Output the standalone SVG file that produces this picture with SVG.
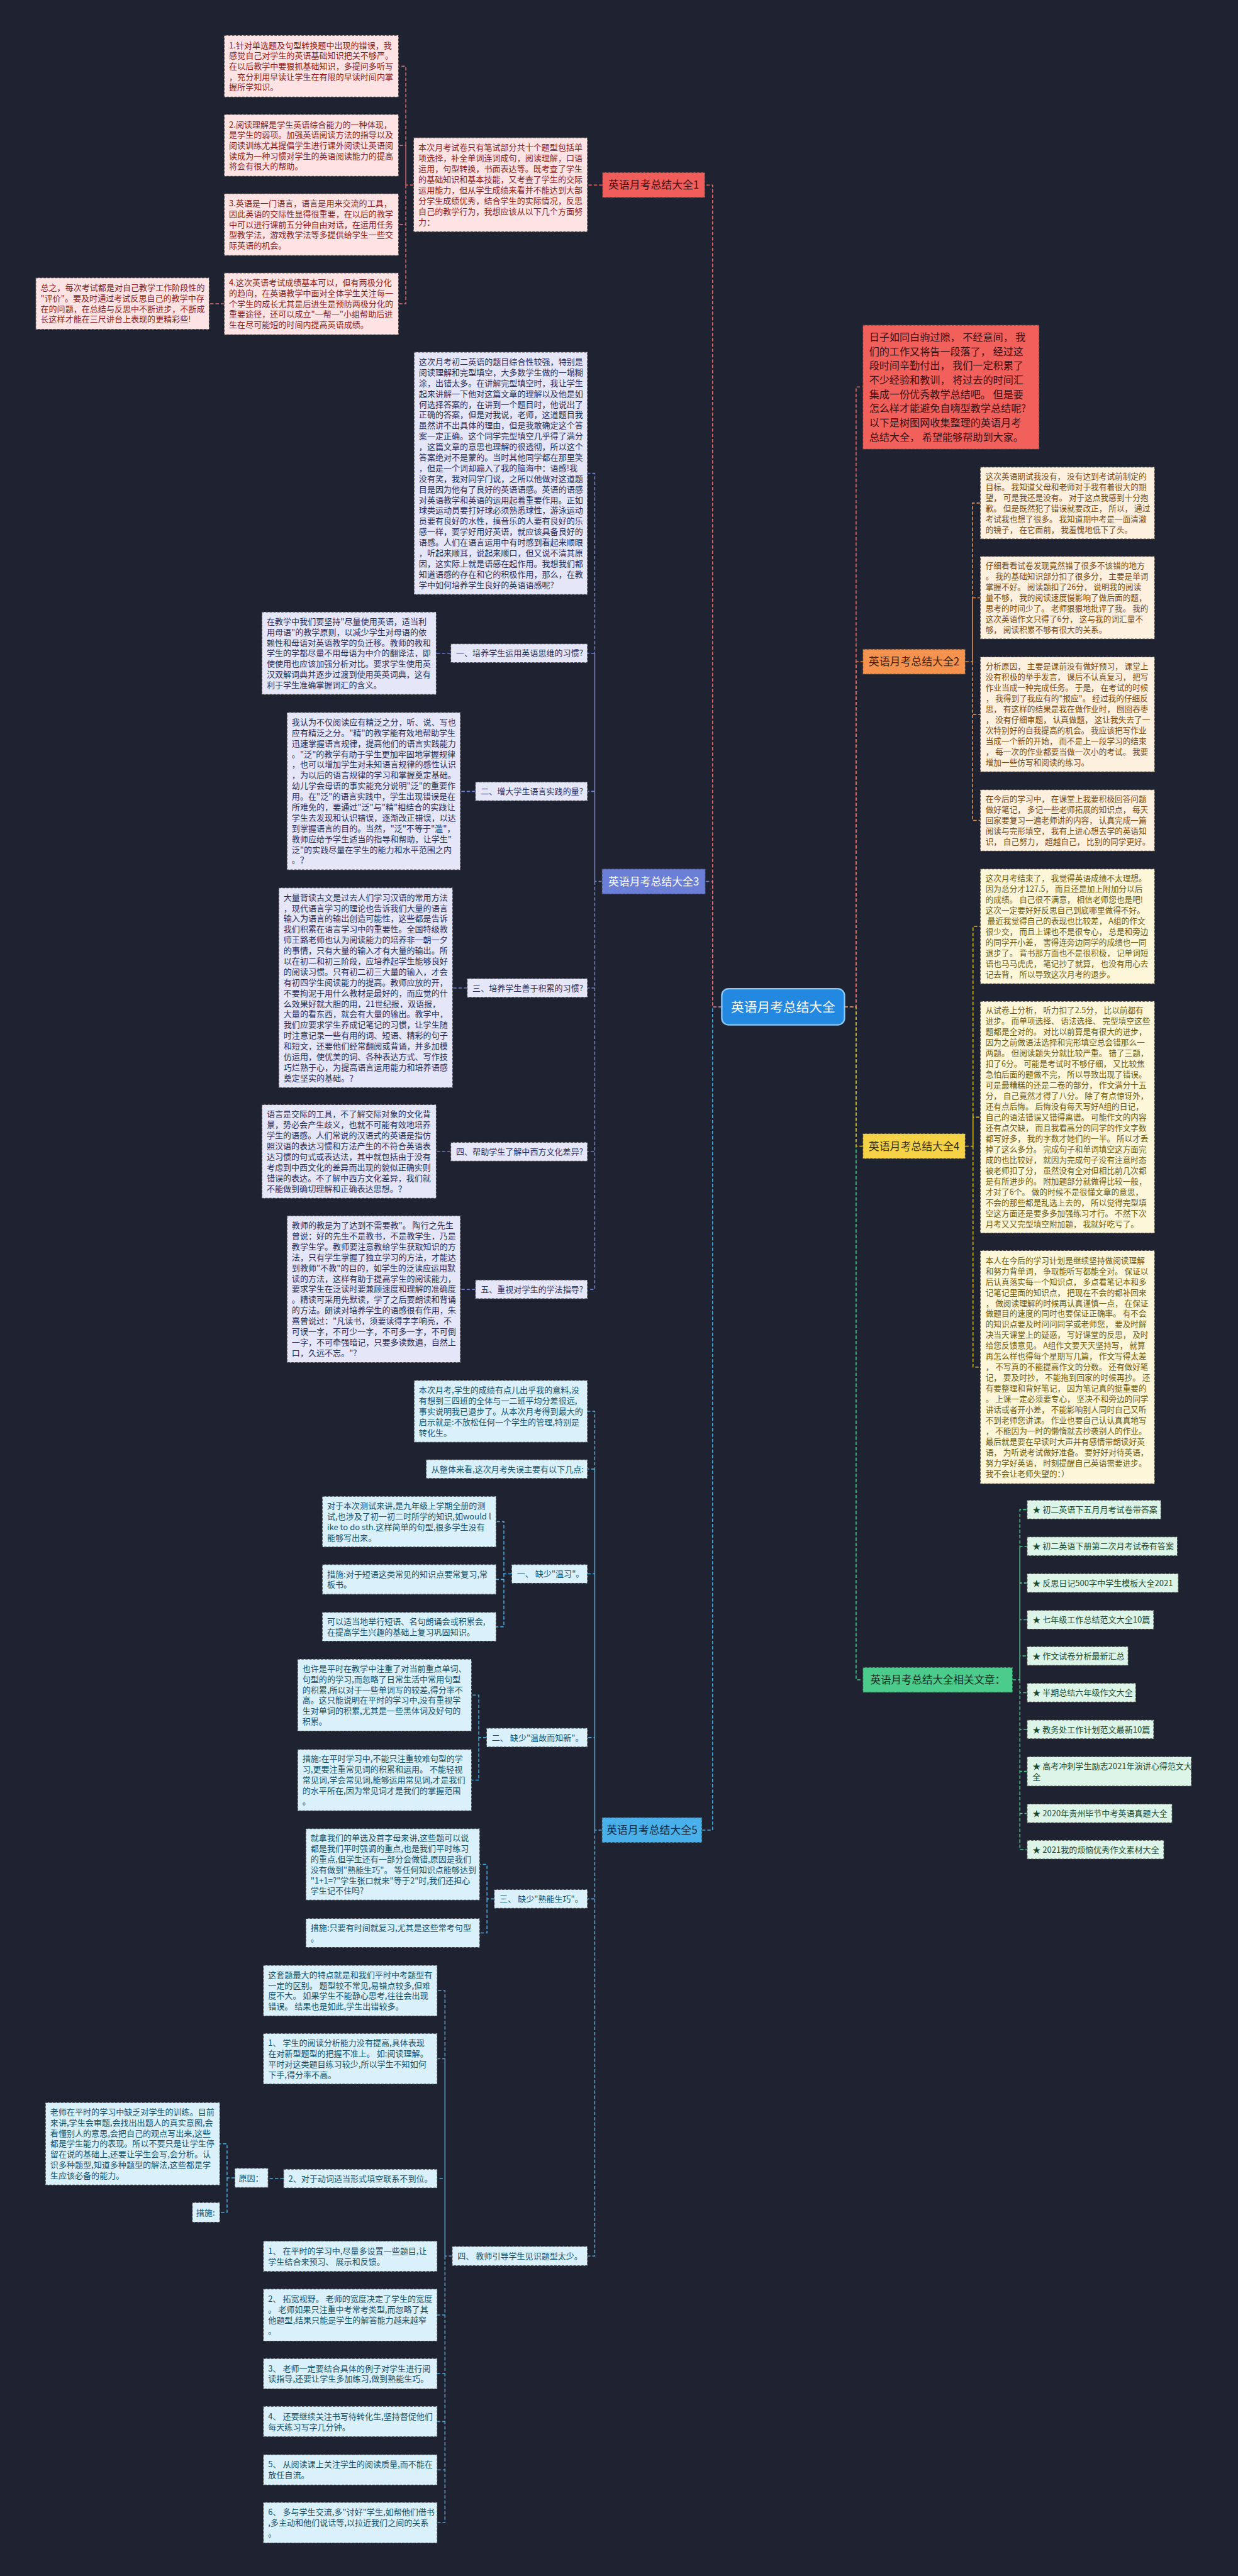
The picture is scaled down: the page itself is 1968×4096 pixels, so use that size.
<svg xmlns="http://www.w3.org/2000/svg" width="1968" height="4096" viewBox="0 0 1968 4096">
<style>
.tx{font-family:"Noto Sans CJK SC","Noto Sans",sans-serif}
.f17{font-size:17px}
.f16{font-size:16.5px}
.bx{stroke:#3a3a3a;stroke-width:1.5;stroke-dasharray:5 3}
.cl{fill:none;stroke-width:2;stroke-dasharray:7 4}
.k1{stroke:#e26b6b}.k2{stroke:#e8954d}.k3{stroke:#7080d0}.k4{stroke:#d9bb3a}.k5{stroke:#4aa9dc}.k6{stroke:#4ccc8c}
.p1{fill:#fde3e3}.tp1{fill:#8a1d1d}
.p2{fill:#fef0de}.tp2{fill:#7a4a10}
.p3{fill:#e5e7f8}.tp3{fill:#2a2d5c}
.p4{fill:#fdf6d8}.tp4{fill:#6e5c12}
.p5{fill:#daf1fb}.tp5{fill:#15506b}
.p6{fill:#ddf5e8}.tp6{fill:#1c4a30}
.lab{font-size:22px;text-anchor:middle}
</style>
<rect x="0" y="0" width="1968" height="4096" fill="#1f2230"/>
<g transform="scale(0.768)">
<g id="connectors">
<path class="cl k5" d="M1494 2085H1475V3789H1453"/>
<path class="cl k3" d="M1494 2085H1475V1825H1460"/>
<path class="cl k1" d="M1494 2085H1475V383H1459"/>
<path class="cl k6" d="M1748 2085H1772V3478H1786"/>
<path class="cl k4" d="M1748 2085H1772V2373H1786"/>
<path class="cl k2" d="M1748 2085H1772V1370H1786"/>
<path class="cl k1" d="M1748 2085H1772V801H1786"/>
<path class="cl k1" d="M1247 383H1216M856 383H840V137H825M840 383V301H825M840 383V465H825M840 383V629H825M464 629H433"/>
<path class="cl k2" d="M1998 1370H2013V1041.5H2029M2013 1370V1237.5H2029M2013 1370V1479H2029M2013 1370V1698.5H2029"/>
<path class="cl k4" d="M1998 2373H2014V1918H2029M2014 2373V2313H2029M2014 2373V2830.5H2029"/>
<path class="cl k6" d="M2096 3478H2111V3125.5H2126M2111 3478V3201.5H2126M2111 3478V3277.5H2126M2111 3478V3353.5H2126M2111 3478V3428.5H2126M2111 3478V3504.5H2126M2111 3478V3580.5H2126M2111 3478V3667.5H2126M2111 3478V3754.5H2126M2111 3478V3829.5H2126"/>
<path class="cl k3" d="M1246 1825H1231V980H1216M1231 1825V1352.5H1216M1231 1825V1638.5H1216M1231 1825V2045.5H1216M1231 1825V2384.5H1216M1231 1825V2669.5H1216M933 1352.5H903M984 1638.5H953M967 2045.5H937M933 2384.5H903M984 2669.5H953"/>
<path class="cl k5" d="M1246 3789H1231V2922H1216M1231 3789V3041.5H1216M1231 3789V3258.5H1216M1231 3789V3597.5H1216M1231 3789V3931.5H1216M1231 3789V4671H1216"/>
<path class="cl k5" d="M1059 3258.5H1043V3150.5H1027M1043 3258.5V3270H1027M1043 3258.5V3368H1027M1007 3597.5H991V3509.5H976M991 3597.5V3685.5H976M1023 3931.5H1008V3860H993M1008 3931.5V4002H993"/>
<path class="cl k5" d="M936 4671H921V4121.5H905M921 4671V4262.5H905M921 4671V4510.5H905M921 4671V4793H905M921 4671V4914.5H905M921 4671V5013.5H905M921 4671V5113.5H905M921 4671V5223H905M587 4510.5H555M486 4509H470V4438.5H455M470 4509V4580.5H455"/>
</g>

<g id="root">
<rect x="1494" y="2047" width="254" height="75" rx="14" fill="#2389e0" stroke="#8cc8f5" stroke-width="3"/>
<text class="tx" x="1621" y="2094.5" font-size="27" fill="#ffffff" text-anchor="middle">英语月考总结大全</text>
</g>

<g id="b1">
<rect x="1247" y="357" width="212" height="52" fill="#f05d5b" class="bx"/>
<text class="tx lab" x="1353" y="391" fill="#3d1212">英语月考总结大全1</text>
</g>
<g id="b1-s">
<rect x="856" y="285" width="360" height="195" class="bx p1"/>
<text class="tx f17 tp1" x="866" y="311.6"><tspan x="866">本次月考试卷只有笔试部分共十个题型包括单</tspan><tspan x="866" dy="22">项选择，补全单词连词成句，阅读理解，口语</tspan><tspan x="866" dy="22">运用，句型转换，书面表达等。既考查了学生</tspan><tspan x="866" dy="22">的基础知识和基本技能，又考查了学生的交际</tspan><tspan x="866" dy="22">运用能力，但从学生成绩来看并不能达到大部</tspan><tspan x="866" dy="22">分学生成绩优秀，结合学生的实际情况，反思</tspan><tspan x="866" dy="22">自己的教学行为，我想应该从以下几个方面努</tspan><tspan x="866" dy="22">力：</tspan></text>
</g>
<g id="b1-1">
<rect x="464" y="73" width="361" height="128" class="bx p1"/>
<text class="tx f17 tp1" x="474" y="99.7"><tspan x="474">1.针对单选题及句型转换题中出现的错误，我</tspan><tspan x="474" dy="21.7">感觉自己对学生的英语基础知识把关不够严。</tspan><tspan x="474" dy="21.7">在以后教学中要狠抓基础知识，多提问多听写</tspan><tspan x="474" dy="21.7">，充分利用早读让学生在有限的早读时间内掌</tspan><tspan x="474" dy="21.7">握所学知识。</tspan></text>
</g>
<g id="b1-2">
<rect x="464" y="237" width="361" height="128" class="bx p1"/>
<text class="tx f17 tp1" x="474" y="263.7"><tspan x="474">2.阅读理解是学生英语综合能力的一种体现，</tspan><tspan x="474" dy="21.7">是学生的弱项。加强英语阅读方法的指导以及</tspan><tspan x="474" dy="21.7">阅读训练尤其提倡学生进行课外阅读让英语阅</tspan><tspan x="474" dy="21.7">读成为一种习惯对学生的英语阅读能力的提高</tspan><tspan x="474" dy="21.7">将会有很大的帮助。</tspan></text>
</g>
<g id="b1-3">
<rect x="464" y="401" width="361" height="128" class="bx p1"/>
<text class="tx f17 tp1" x="474" y="427.7"><tspan x="474">3.英语是一门语言，语言是用来交流的工具，</tspan><tspan x="474" dy="21.7">因此英语的交际性显得很重要，在以后的教学</tspan><tspan x="474" dy="21.7">中可以进行课前五分钟自由对话，在运用任务</tspan><tspan x="474" dy="21.7">型教学法，游戏教学法等多提供给学生一些交</tspan><tspan x="474" dy="21.7">际英语的机会。</tspan></text>
</g>
<g id="b1-4">
<rect x="464" y="565" width="361" height="128" class="bx p1"/>
<text class="tx f17 tp1" x="474" y="591.7"><tspan x="474">4.这次英语考试成绩基本可以，但有两极分化</tspan><tspan x="474" dy="21.7">的趋向，在英语教学中面对全体学生关注每一</tspan><tspan x="474" dy="21.7">个学生的成长尤其是后进生是预防两极分化的</tspan><tspan x="474" dy="21.7">重要途径，还可以成立"一帮一"小组帮助后进</tspan><tspan x="474" dy="21.7">生在尽可能短的时间内提高英语成绩。</tspan></text>
</g>
<g id="b1-4-1">
<rect x="74" y="575" width="359" height="107" class="bx p1"/>
<text class="tx f17 tp1" x="84" y="602"><tspan x="84">总之，每次考试都是对自己教学工作阶段性的</tspan><tspan x="84" dy="21.7">"评价"。要及时通过考试反思自己的教学中存</tspan><tspan x="84" dy="21.7">在的问题，在总结与反思中不断进步，不断成</tspan><tspan x="84" dy="21.7">长这样才能在三尺讲台上表现的更精彩些!</tspan></text>
</g>

<g id="intro">
<rect x="1786" y="673" width="365" height="257" fill="#f2605c" class="bx"/>
<text class="tx" font-size="21" fill="#3a0f0f" x="1799" y="705.5"><tspan x="1799">日子如同白驹过隙， 不经意间， 我</tspan><tspan x="1799" dy="29.6">们的工作又将告一段落了， 经过这</tspan><tspan x="1799" dy="29.6">段时间辛勤付出， 我们一定积累了</tspan><tspan x="1799" dy="29.6">不少经验和教训， 将过去的时间汇</tspan><tspan x="1799" dy="29.6">集成一份优秀教学总结吧。 但是要</tspan><tspan x="1799" dy="29.6">怎么样才能避免自嗨型教学总结呢?</tspan><tspan x="1799" dy="29.6">以下是树图网收集整理的英语月考</tspan><tspan x="1799" dy="29.6">总结大全， 希望能够帮助到大家。</tspan></text>
</g>

<g id="b2">
<rect x="1786" y="1344" width="212" height="52" fill="#f5924e" class="bx"/>
<text class="tx lab" x="1892" y="1378" fill="#3d220a">英语月考总结大全2</text>
</g>
<g id="b2-1">
<rect x="2029" y="967" width="361" height="149" class="bx p2"/>
<text class="tx f16 tp2" x="2040" y="992"><tspan x="2040">这次英语期试我没有， 没有达到考试前制定的</tspan><tspan x="2040" dy="22.2">目标。 我知道父母和老师对于我有着很大的期</tspan><tspan x="2040" dy="22.2">望， 可是我还是没有。 对于这点我感到十分抱</tspan><tspan x="2040" dy="22.2">歉。 但是既然犯了错误就要改正， 所以， 通过</tspan><tspan x="2040" dy="22.2">考试我也想了很多。 我知道期中考是一面清澈</tspan><tspan x="2040" dy="22.2">的镜子， 在它面前， 我羞愧地低下了头。</tspan></text>
</g>
<g id="b2-2">
<rect x="2029" y="1152" width="361" height="171" class="bx p2"/>
<text class="tx f16 tp2" x="2040" y="1176.8"><tspan x="2040">仔细看看试卷发现竟然错了很多不该错的地方</tspan><tspan x="2040" dy="22.2">。 我的基础知识部分扣了很多分， 主要是单词</tspan><tspan x="2040" dy="22.2">掌握不好。 阅读题扣了26分， 说明我的阅读</tspan><tspan x="2040" dy="22.2">量不够， 我的阅读速度慢影响了做后面的题，</tspan><tspan x="2040" dy="22.2">思考的时间少了。 老师狠狠地批评了我。 我的</tspan><tspan x="2040" dy="22.2">这次英语作文只得了6分， 这与我的词汇量不</tspan><tspan x="2040" dy="22.2">够， 阅读积累不够有很大的关系。</tspan></text>
</g>
<g id="b2-3">
<rect x="2029" y="1360" width="361" height="238" class="bx p2"/>
<text class="tx f16 tp2" x="2040" y="1385"><tspan x="2040">分析原因， 主要是课前没有做好预习， 课堂上</tspan><tspan x="2040" dy="22.2">没有积极的举手发言， 课后不认真复习， 把写</tspan><tspan x="2040" dy="22.2">作业当成一种完成任务。 于是， 在考试的时候</tspan><tspan x="2040" dy="22.2">， 我得到了我应有的"报应"。 经过我的仔细反</tspan><tspan x="2040" dy="22.2">思， 有这样的结果是我在做作业时， 囫囵吞枣</tspan><tspan x="2040" dy="22.2">， 没有仔细审题， 认真做题， 这让我失去了一</tspan><tspan x="2040" dy="22.2">次特别好的自我提高的机会。 我应该把写作业</tspan><tspan x="2040" dy="22.2">当成一个新的开始， 而不是上一段学习的结束</tspan><tspan x="2040" dy="22.2">， 每一次的作业都要当做一次小的考试。 我要</tspan><tspan x="2040" dy="22.2">增加一些仿写和阅读的练习。</tspan></text>
</g>
<g id="b2-4">
<rect x="2029" y="1635" width="361" height="127" class="bx p2"/>
<text class="tx f16 tp2" x="2040" y="1660"><tspan x="2040">在今后的学习中， 在课堂上我要积极回答问题</tspan><tspan x="2040" dy="22.2">做好笔记， 多记一些老师拓展的知识点， 每天</tspan><tspan x="2040" dy="22.2">回家要复习一遍老师讲的内容， 认真完成一篇</tspan><tspan x="2040" dy="22.2">阅读与完形填空， 我有上进心想去学的英语知</tspan><tspan x="2040" dy="22.2">识， 自己努力， 超越自己， 比别的同学更好。</tspan></text>
</g>

<g id="b4">
<rect x="1786" y="2347" width="212" height="52" fill="#f6d346" class="bx"/>
<text class="tx lab" x="1892" y="2381" fill="#3a300a">英语月考总结大全4</text>
</g>
<g id="b4-1">
<rect x="2029" y="1799" width="361" height="238" class="bx p4"/>
<text class="tx f16 tp4" x="2040" y="1824"><tspan x="2040">这次月考结束了， 我觉得英语成绩不太理想。</tspan><tspan x="2040" dy="22.2">因为总分才127.5， 而且还是加上附加分以后</tspan><tspan x="2040" dy="22.2">的成绩。 自己很不满意， 相信老师您也是吧!</tspan><tspan x="2040" dy="22.2">这次一定要好好反思自己到底哪里做得不好。</tspan><tspan x="2040" dy="22.2">&#160;最近我觉得自己的表现也比较差， A组的作文</tspan><tspan x="2040" dy="22.2">很少交， 而且上课也不是很专心， 总是和旁边</tspan><tspan x="2040" dy="22.2">的同学开小差， 害得连旁边同学的成绩也一同</tspan><tspan x="2040" dy="22.2">退步了。 背书那方面也不是很积极， 记单词短</tspan><tspan x="2040" dy="22.2">语也马马虎虎， 笔记抄了就算， 也没有用心去</tspan><tspan x="2040" dy="22.2">记去背， 所以导致这次月考的退步。</tspan></text>
</g>
<g id="b4-2">
<rect x="2029" y="2073" width="361" height="480" class="bx p4"/>
<text class="tx f16 tp4" x="2040" y="2098"><tspan x="2040">从试卷上分析， 听力扣了2.5分， 比以前都有</tspan><tspan x="2040" dy="22.1">进步。 而单项选择、 语法选择、 完型填空这些</tspan><tspan x="2040" dy="22.1">题都是全对的。 对比以前算是有很大的进步，</tspan><tspan x="2040" dy="22.1">因为之前做语法选择和完形填空总会错那么一</tspan><tspan x="2040" dy="22.1">两题。 但阅读题失分就比较严重。 错了三题，</tspan><tspan x="2040" dy="22.1">扣了6分。 可能是考试时不够仔细， 又比较焦</tspan><tspan x="2040" dy="22.1">急怕后面的题做不完， 所以导致出现了错误。</tspan><tspan x="2040" dy="22.1">可是最糟糕的还是二卷的部分， 作文满分十五</tspan><tspan x="2040" dy="22.1">分， 自己竟然才得了八分。 除了有点惊讶外，</tspan><tspan x="2040" dy="22.1">还有点后悔。 后悔没有每天写好A组的日记，</tspan><tspan x="2040" dy="22.1">自己的语法错误又错得离谱。 可能作文的内容</tspan><tspan x="2040" dy="22.1">还有点欠缺， 而且我看高分的同学的作文字数</tspan><tspan x="2040" dy="22.1">都写好多， 我的字数才她们的一半。 所以才丢</tspan><tspan x="2040" dy="22.1">掉了这么多分。 完成句子和单词填空这方面完</tspan><tspan x="2040" dy="22.1">成的也比较好， 就因为完成句子没有注意时态</tspan><tspan x="2040" dy="22.1">被老师扣了分， 虽然没有全对但相比前几次都</tspan><tspan x="2040" dy="22.1">是有所进步的。 附加题部分就做得比较一般，</tspan><tspan x="2040" dy="22.1">才对了6个。 做的时候不是很懂文章的意思，</tspan><tspan x="2040" dy="22.1">不会的那些都是乱选上去的， 所以觉得完型填</tspan><tspan x="2040" dy="22.1">空这方面还是要多多加强练习才行。 不然下次</tspan><tspan x="2040" dy="22.1">月考又又完型填空附加题， 我就好吃亏了。</tspan></text>
</g>
<g id="b4-3">
<rect x="2029" y="2589" width="361" height="483" class="bx p4"/>
<text class="tx f16 tp4" x="2040" y="2615.4"><tspan x="2040">本人在今后的学习计划是继续坚持做阅读理解</tspan><tspan x="2040" dy="22.1">和努力背单词， 争取能听写都能全对。 保证以</tspan><tspan x="2040" dy="22.1">后认真落实每一个知识点， 多点看笔记本和多</tspan><tspan x="2040" dy="22.1">记笔记里面的知识点， 把现在不会的都补回来</tspan><tspan x="2040" dy="22.1">， 做阅读理解的时候再认真谨慎一点， 在保证</tspan><tspan x="2040" dy="22.1">做题目的速度的同时也要保证正确率。 有不会</tspan><tspan x="2040" dy="22.1">的知识点要及时问问同学或老师您， 要及时解</tspan><tspan x="2040" dy="22.1">决当天课堂上的疑惑， 写好课堂的反思， 及时</tspan><tspan x="2040" dy="22.1">给您反馈意见。 A组作文要天天坚持写， 就算</tspan><tspan x="2040" dy="22.1">再怎么样也得每个星期写几篇， 作文写得太差</tspan><tspan x="2040" dy="22.1">， 不写真的不能提高作文的分数。 还有做好笔</tspan><tspan x="2040" dy="22.1">记， 要及时抄， 不能拖到回家的时候再抄。 还</tspan><tspan x="2040" dy="22.1">有要整理和背好笔记， 因为笔记真的挺重要的</tspan><tspan x="2040" dy="22.1">。 上课一定必须要专心， 坚决不和旁边的同学</tspan><tspan x="2040" dy="22.1">讲话或者开小差， 不能影响别人同时自己又听</tspan><tspan x="2040" dy="22.1">不到老师您讲课。 作业也要自己认认真真地写</tspan><tspan x="2040" dy="22.1">， 不能因为一时的懒惰就去抄袭别人的作业。</tspan><tspan x="2040" dy="22.1">最后就是要在早读时大声并有感情带朗读好英</tspan><tspan x="2040" dy="22.1">语， 为听说考试做好准备。 要好好对待英语，</tspan><tspan x="2040" dy="22.1">努力学好英语， 时刻提醒自己英语需要进步。</tspan><tspan x="2040" dy="22.1">我不会让老师失望的：）</tspan></text>
</g>

<g id="b6">
<rect x="1786" y="3452" width="310" height="52" fill="#4ccc8c" class="bx"/>
<text class="tx lab" x="1941" y="3485.7" fill="#12301f" style="font-size:21.5px">英语月考总结大全相关文章：</text>
</g>
<g id="b6-items" class="tx f17 tp6">
<rect x="2126" y="3106" width="277" height="39" class="bx p6"/><text x="2137" y="3131.6">★ 初二英语下五月月考试卷带答案</text>
<rect x="2126" y="3182" width="311" height="39" class="bx p6"/><text x="2137" y="3207.6">★ 初二英语下册第二次月考试卷有答案</text>
<rect x="2126" y="3258" width="313" height="39" class="bx p6"/><text x="2137" y="3283.6">★ 反思日记500字中学生模板大全2021</text>
<rect x="2126" y="3334" width="262" height="39" class="bx p6"/><text x="2137" y="3359.6">★ 七年级工作总结范文大全10篇</text>
<rect x="2126" y="3409" width="209" height="39" class="bx p6"/><text x="2137" y="3434.6">★ 作文试卷分析最新汇总</text>
<rect x="2126" y="3485" width="225" height="39" class="bx p6"/><text x="2137" y="3510.6">★ 半期总结六年级作文大全</text>
<rect x="2126" y="3561" width="262" height="39" class="bx p6"/><text x="2137" y="3586.6">★ 教务处工作计划范文最新10篇</text>
<rect x="2126" y="3637" width="340" height="61" class="bx p6"/><text x="2137" y="3662.6"><tspan x="2137">★ 高考冲刺学生励志2021年演讲心得范文大</tspan><tspan x="2137" dy="22">全</tspan></text>
<rect x="2126" y="3735" width="300" height="39" class="bx p6"/><text x="2137" y="3760.6">★ 2020年贵州毕节中考英语真题大全</text>
<rect x="2126" y="3810" width="283" height="39" class="bx p6"/><text x="2137" y="3835.6">★ 2021我的烦恼优秀作文素材大全</text>
</g>

<g id="b3">
<rect x="1246" y="1799" width="214" height="52" fill="#6b7fd7" class="bx"/>
<text class="tx lab" x="1353" y="1833" fill="#ffffff">英语月考总结大全3</text>
</g>
<g id="b3-a">
<rect x="857" y="729" width="359" height="502" class="bx p3"/>
<text class="tx f17 tp3" x="867" y="755.1"><tspan x="867">这次月考初二英语的题目综合性较强，特别是</tspan><tspan x="867" dy="22">阅读理解和完型填空，大多数学生做的一塌糊</tspan><tspan x="867" dy="22">涂，出错太多。在讲解完型填空时，我让学生</tspan><tspan x="867" dy="22">起来讲解一下他对这篇文章的理解以及他是如</tspan><tspan x="867" dy="22">何选择答案的，在讲到一个题目时，他说出了</tspan><tspan x="867" dy="22">正确的答案，但是对我说，老师，这道题目我</tspan><tspan x="867" dy="22">虽然讲不出具体的理由，但是我敢确定这个答</tspan><tspan x="867" dy="22">案一定正确。这个同学完型填空几乎得了满分</tspan><tspan x="867" dy="22">，这篇文章的意思也理解的很透彻，所以这个</tspan><tspan x="867" dy="22">答案绝对不是蒙的。当时其他同学都在那里笑</tspan><tspan x="867" dy="22">，但是一个词却蹦入了我的脑海中：语感!我</tspan><tspan x="867" dy="22">没有笑，我对同学门说，之所以他做对这道题</tspan><tspan x="867" dy="22">目是因为他有了良好的英语语感。英语的语感</tspan><tspan x="867" dy="22">对英语教学和英语的运用起着重要作用。正如</tspan><tspan x="867" dy="22">球类运动员要打好球必须熟悉球性，游泳运动</tspan><tspan x="867" dy="22">员要有良好的水性，搞音乐的人要有良好的乐</tspan><tspan x="867" dy="22">感一样，要学好用好英语，就应该具备良好的</tspan><tspan x="867" dy="22">语感。人们在语言运用中有时感到看起来顺眼</tspan><tspan x="867" dy="22">，听起来顺耳，说起来顺口，但又说不清其原</tspan><tspan x="867" dy="22">因，这实际上就是语感在起作用。我想我们都</tspan><tspan x="867" dy="22">知道语感的存在和它的积极作用，那么，在教</tspan><tspan x="867" dy="22">学中如何培养学生良好的英语语感呢?</tspan></text>
</g>
<g id="b3-1">
<rect x="933" y="1333" width="283" height="39" class="bx p3"/>
<text class="tx f17 tp3" x="944" y="1358.6">一、培养学生运用英语思维的习惯?</text>
</g>
<g id="b3-1-1">
<rect x="542" y="1267" width="361" height="171" class="bx p3"/>
<text class="tx f17 tp3" x="552" y="1292.6"><tspan x="552">在教学中我们要坚持"尽量使用英语，适当利</tspan><tspan x="552" dy="22">用母语"的教学原则，以减少学生对母语的依</tspan><tspan x="552" dy="22">赖性和母语对英语教学的负迁移。教师的教和</tspan><tspan x="552" dy="22">学生的学都尽量不用母语为中介的翻译法，即</tspan><tspan x="552" dy="22">使使用也应该加强分析对比。要求学生使用英</tspan><tspan x="552" dy="22">汉双解词典并逐步过渡到使用英英词典，这有</tspan><tspan x="552" dy="22">利于学生准确掌握词汇的含义。</tspan></text>
</g>
<g id="b3-2">
<rect x="984" y="1619" width="232" height="39" class="bx p3"/>
<text class="tx f17 tp3" x="995" y="1644.6">二、增大学生语言实践的量?</text>
</g>
<g id="b3-2-1">
<rect x="594" y="1475" width="359" height="326" class="bx p3"/>
<text class="tx f17 tp3" x="604" y="1501.1"><tspan x="604">我认为不仅阅读应有精泛之分，听、说、写也</tspan><tspan x="604" dy="22">应有精泛之分。"精"的教学能有效地帮助学生</tspan><tspan x="604" dy="22">迅速掌握语言规律，提高他们的语言实践能力</tspan><tspan x="604" dy="22">。"泛"的教学有助于学生更加牢固地掌握规律</tspan><tspan x="604" dy="22">，也可以增加学生对未知语言规律的感性认识</tspan><tspan x="604" dy="22">，为以后的语言规律的学习和掌握奠定基础。</tspan><tspan x="604" dy="22">幼儿学会母语的事实能充分说明"泛"的重要作</tspan><tspan x="604" dy="22">用。在"泛"的语言实践中，学生出现错误是在</tspan><tspan x="604" dy="22">所难免的，要通过"泛"与"精"相结合的实践让</tspan><tspan x="604" dy="22">学生去发现和认识错误，逐渐改正错误，以达</tspan><tspan x="604" dy="22">到掌握语言的目的。当然，"泛"不等于"滥"，</tspan><tspan x="604" dy="22">教师应给予学生适当的指导和帮助，让学生"</tspan><tspan x="604" dy="22">泛"的实践尽量在学生的能力和水平范围之内</tspan><tspan x="604" dy="22">。？</tspan></text>
</g>
<g id="b3-3">
<rect x="967" y="2026" width="249" height="39" class="bx p3"/>
<text class="tx f17 tp3" x="978" y="2051.6">三、培养学生善于积累的习惯?</text>
</g>
<g id="b3-3-1">
<rect x="577" y="1838" width="360" height="414" class="bx p3"/>
<text class="tx f17 tp3" x="587" y="1864.1"><tspan x="587">大量背读古文是过去人们学习汉语的常用方法</tspan><tspan x="587" dy="22">，现代语言学习的理论也告诉我们大量的语言</tspan><tspan x="587" dy="22">输入为语言的输出创造可能性，这些都是告诉</tspan><tspan x="587" dy="22">我们积累在语言学习中的重要性。全国特级教</tspan><tspan x="587" dy="22">师王路老师也认为阅读能力的培养非一朝一夕</tspan><tspan x="587" dy="22">的事情，只有大量的输入才有大量的输出。所</tspan><tspan x="587" dy="22">以在初二和初三阶段，应培养起学生能够良好</tspan><tspan x="587" dy="22">的阅读习惯。只有初二初三大量的输入，才会</tspan><tspan x="587" dy="22">有初四学生阅读能力的提高。教师应放的开，</tspan><tspan x="587" dy="22">不要拘泥于用什么教材是最好的，而应觉的什</tspan><tspan x="587" dy="22">么效果好就大胆的用，21世纪报，双语报，</tspan><tspan x="587" dy="22">大量的看东西，就会有大量的输出。教学中，</tspan><tspan x="587" dy="22">我们应要求学生养成记笔记的习惯，让学生随</tspan><tspan x="587" dy="22">时注意记录一些有用的词、短语、精彩的句子</tspan><tspan x="587" dy="22">和短文，还要他们经常翻阅或背诵，并多加模</tspan><tspan x="587" dy="22">仿运用，使优美的词、各种表达方式、写作技</tspan><tspan x="587" dy="22">巧烂熟于心，为提高语言运用能力和培养语感</tspan><tspan x="587" dy="22">奠定坚实的基础。？</tspan></text>
</g>
<g id="b3-4">
<rect x="933" y="2365" width="283" height="39" class="bx p3"/>
<text class="tx f17 tp3" x="944" y="2390.6">四、帮助学生了解中西方文化差异?</text>
</g>
<g id="b3-4-1">
<rect x="542" y="2287" width="361" height="194" class="bx p3"/>
<text class="tx f17 tp3" x="552" y="2313.1"><tspan x="552">语言是交际的工具，不了解交际对象的文化背</tspan><tspan x="552" dy="22">景，势必会产生歧义，也就不可能有效地培养</tspan><tspan x="552" dy="22">学生的语感。人们常说的汉语式的英语是指仿</tspan><tspan x="552" dy="22">照汉语的表达习惯和方法产生的不符合英语表</tspan><tspan x="552" dy="22">达习惯的句式或表达法，其中就包括由于没有</tspan><tspan x="552" dy="22">考虑到中西文化的差异而出现的貌似正确实则</tspan><tspan x="552" dy="22">错误的表达。不了解中西方文化差异，我们就</tspan><tspan x="552" dy="22">不能做到确切理解和正确表达思想。？</tspan></text>
</g>
<g id="b3-5">
<rect x="984" y="2650" width="232" height="39" class="bx p3"/>
<text class="tx f17 tp3" x="995" y="2675.6">五、重视对学生的学法指导?</text>
</g>
<g id="b3-5-1">
<rect x="594" y="2517" width="359" height="304" class="bx p3"/>
<text class="tx f17 tp3" x="604" y="2543.1"><tspan x="604">教师的教是为了达到不需要教"。 陶行之先生</tspan><tspan x="604" dy="22">曾说：好的先生不是教书，不是教学生，乃是</tspan><tspan x="604" dy="22">教学生学。教师要注意教给学生获取知识的方</tspan><tspan x="604" dy="22">法，只有学生掌握了独立学习的方法，才能达</tspan><tspan x="604" dy="22">到教师"不教"的目的，如学生的泛读应运用默</tspan><tspan x="604" dy="22">读的方法，这样有助于提高学生的阅读能力，</tspan><tspan x="604" dy="22">要求学生在泛读时要兼顾速度和理解的准确度</tspan><tspan x="604" dy="22">。精读可采用先默读，学了之后要朗读和背诵</tspan><tspan x="604" dy="22">的方法。朗读对培养学生的语感很有作用，朱</tspan><tspan x="604" dy="22">熹曾说过："凡读书，须要读得字字响亮，不</tspan><tspan x="604" dy="22">可误一字，不可少一字，不可多一字，不可倒</tspan><tspan x="604" dy="22">一字，不可牵强暗记，只要多读数遍，自然上</tspan><tspan x="604" dy="22">口，久远不忘。"?</tspan></text>
</g>

<g id="b5">
<rect x="1246" y="3763" width="207" height="52" fill="#4ab0ea" class="bx"/>
<text class="tx lab" x="1349.5" y="3797" fill="#10283a">英语月考总结大全5</text>
</g>
<g id="b5-g">
<rect x="857" y="2858" width="359" height="128" class="bx p5"/>
<text class="tx f17 tp5" x="867" y="2884.1"><tspan x="867">本次月考,学生的成绩有点儿出乎我的意料,没</tspan><tspan x="867" dy="22">有想到三四班的全体与一二班平均分差很远,</tspan><tspan x="867" dy="22">事实说明我已退步了。从本次月考得到最大的</tspan><tspan x="867" dy="22">启示就是:不放松任何一个学生的管理,特别是</tspan><tspan x="867" dy="22">转化生。</tspan></text>
</g>
<g id="b5-h">
<rect x="882" y="3022" width="334" height="39" class="bx p5"/>
<text class="tx f17 tp5" x="893" y="3047.6">从整体来看,这次月考失误主要有以下几点:</text>
</g>
<g id="b5-1">
<rect x="1059" y="3239" width="157" height="39" class="bx p5"/>
<text class="tx f17 tp5" x="1070" y="3264.6">一、 缺少"温习"。</text>
</g>
<g id="b5-1-1">
<rect x="667" y="3098" width="360" height="105" class="bx p5"/>
<text class="tx f17 tp5" x="677" y="3123.6"><tspan x="677">对于本次测试来讲,是九年级上学期全册的测</tspan><tspan x="677" dy="22">试,也涉及了初一初二时所学的知识,如would l</tspan><tspan x="677" dy="22">ike to do sth.这样简单的句型,很多学生没有</tspan><tspan x="677" dy="22">能够写出来。</tspan></text>
</g>
<g id="b5-1-2">
<rect x="667" y="3239" width="360" height="62" class="bx p5"/>
<text class="tx f17 tp5" x="677" y="3265.1"><tspan x="677">措施:对于短语这类常见的知识点要常复习,常</tspan><tspan x="677" dy="22">板书。</tspan></text>
</g>
<g id="b5-1-3">
<rect x="667" y="3338" width="360" height="60" class="bx p5"/>
<text class="tx f17 tp5" x="677" y="3363.1"><tspan x="677">可以适当地举行短语、名句朗诵会或积累会,</tspan><tspan x="677" dy="22">在提高学生兴趣的基础上复习巩固知识。</tspan></text>
</g>
<g id="b5-2">
<rect x="1007" y="3578" width="209" height="39" class="bx p5"/>
<text class="tx f17 tp5" x="1018" y="3603.6">二、 缺少"温故而知新"。</text>
</g>
<g id="b5-2-1">
<rect x="616" y="3435" width="360" height="149" class="bx p5"/>
<text class="tx f17 tp5" x="626" y="3460.6"><tspan x="626">也许是平时在教学中注重了对当前重点单词、</tspan><tspan x="626" dy="22">句型的的学习,而忽略了日常生活中常用句型</tspan><tspan x="626" dy="22">的积累,所以对于一些单词写的较差,得分率不</tspan><tspan x="626" dy="22">高。这只能说明在平时的学习中,没有重视学</tspan><tspan x="626" dy="22">生对单词的积累,尤其是一些黑体词及好句的</tspan><tspan x="626" dy="22">积累。</tspan></text>
</g>
<g id="b5-2-2">
<rect x="616" y="3622" width="360" height="127" class="bx p5"/>
<text class="tx f17 tp5" x="626" y="3647.6"><tspan x="626">措施:在平时学习中,不能只注重较难句型的学</tspan><tspan x="626" dy="22">习,更要注重常见词的积累和运用。 不能轻视</tspan><tspan x="626" dy="22">常见词,学会常见词,能够运用常见词,才是我们</tspan><tspan x="626" dy="22">的水平所在,因为常见词才是我们的掌握范围</tspan><tspan x="626" dy="22">。</tspan></text>
</g>
<g id="b5-3">
<rect x="1023" y="3912" width="193" height="39" class="bx p5"/>
<text class="tx f17 tp5" x="1034" y="3937.6">三、 缺少"熟能生巧"。</text>
</g>
<g id="b5-3-1">
<rect x="633" y="3786" width="360" height="148" class="bx p5"/>
<text class="tx f17 tp5" x="643" y="3811.1"><tspan x="643">就拿我们的单选及首字母来讲,这些题可以说</tspan><tspan x="643" dy="22">都是我们平时强调的重点,也是我们平时练习</tspan><tspan x="643" dy="22">的重点,但学生还有一部分会做错,原因是我们</tspan><tspan x="643" dy="22">没有做到"熟能生巧"。 等任何知识点能够达到</tspan><tspan x="643" dy="22">"1+1=?"学生张口就来"等于2"时,我们还担心</tspan><tspan x="643" dy="22">学生记不住吗?</tspan></text>
</g>
<g id="b5-3-2">
<rect x="633" y="3972" width="360" height="60" class="bx p5"/>
<text class="tx f17 tp5" x="643" y="3997.1"><tspan x="643">措施:只要有时间就复习,尤其是这些常考句型</tspan><tspan x="643" dy="22">。</tspan></text>
</g>
<g id="b5-4">
<rect x="936" y="4651" width="280" height="40" class="bx p5"/>
<text class="tx f17 tp5" x="947" y="4677.1">四、 教师引导学生见识题型太少。</text>
</g>
<g id="b5-4-1">
<rect x="545" y="4069" width="360" height="105" class="bx p5"/>
<text class="tx f17 tp5" x="555" y="4094.6"><tspan x="555">这套题最大的特点就是和我们平时中考题型有</tspan><tspan x="555" dy="22">一定的区别。 题型较不常见,易错点较多,但难</tspan><tspan x="555" dy="22">度不大。 如果学生不能静心思考,往往会出现</tspan><tspan x="555" dy="22">错误。 结果也是如此,学生出错较多。</tspan></text>
</g>
<g id="b5-4-2">
<rect x="545" y="4210" width="360" height="105" class="bx p5"/>
<text class="tx f17 tp5" x="555" y="4235.6"><tspan x="555">1、 学生的阅读分析能力没有提高,具体表现</tspan><tspan x="555" dy="22">在对新型题型的把握不准上。 如:阅读理解。</tspan><tspan x="555" dy="22">平时对这类题目练习较少,所以学生不知如何</tspan><tspan x="555" dy="22">下手,得分率不高。</tspan></text>
</g>
<g id="b5-4-3">
<rect x="587" y="4491" width="318" height="39" class="bx p5"/>
<text class="tx f17 tp5" x="597" y="4516.6">2、对于动词适当形式填空联系不到位。</text>
</g>
<g id="b5-4-3-1">
<rect x="486" y="4489" width="69" height="40" class="bx p5"/>
<text class="tx f17 tp5" x="494" y="4515.1">原因：</text>
</g>
<g id="b5-4-3-1-1">
<rect x="94" y="4353" width="361" height="171" class="bx p5"/>
<text class="tx f17 tp5" x="104" y="4378.6"><tspan x="104">老师在平时的学习中缺乏对学生的训练。目前</tspan><tspan x="104" dy="22">来讲,学生会审题,会找出出题人的真实意图,会</tspan><tspan x="104" dy="22">看懂别人的意思,会把自己的观点写出来,这些</tspan><tspan x="104" dy="22">都是学生能力的表现。所以不要只是让学生停</tspan><tspan x="104" dy="22">留在说的基础上,还要让学生会写,会分析。认</tspan><tspan x="104" dy="22">识多种题型,知道多种题型的解法,这些都是学</tspan><tspan x="104" dy="22">生应该必备的能力。</tspan></text>
</g>
<g id="b5-4-3-1-2">
<rect x="398" y="4560" width="57" height="41" class="bx p5"/>
<text class="tx f17 tp5" x="406" y="4586.6">措施:</text>
</g>
<g id="b5-4-4">
<rect x="545" y="4640" width="360" height="63" class="bx p5"/>
<text class="tx f17 tp5" x="555" y="4666.6"><tspan x="555">1、 在平时的学习中,尽量多设置一些题目,让</tspan><tspan x="555" dy="22">学生结合来预习、 展示和反馈。</tspan></text>
</g>
<g id="b5-4-5">
<rect x="545" y="4739" width="360" height="108" class="bx p5"/>
<text class="tx f17 tp5" x="555" y="4766.1"><tspan x="555">2、 拓宽视野。 老师的宽度决定了学生的宽度</tspan><tspan x="555" dy="22">。 老师如果只注重中考常考类型,而忽略了其</tspan><tspan x="555" dy="22">他题型,结果只能是学生的解答能力越来越窄</tspan><tspan x="555" dy="22">。</tspan></text>
</g>
<g id="b5-4-6">
<rect x="545" y="4883" width="360" height="63" class="bx p5"/>
<text class="tx f17 tp5" x="555" y="4909.6"><tspan x="555">3、 老师一定要结合具体的例子对学生进行阅</tspan><tspan x="555" dy="22">读指导,还要让学生多加练习,做到熟能生巧。</tspan></text>
</g>
<g id="b5-4-7">
<rect x="545" y="4982" width="360" height="63" class="bx p5"/>
<text class="tx f17 tp5" x="555" y="5008.6"><tspan x="555">4、 还要继续关注书写待转化生,坚持督促他们</tspan><tspan x="555" dy="22">每天练习写字几分钟。</tspan></text>
</g>
<g id="b5-4-8">
<rect x="545" y="5082" width="360" height="63" class="bx p5"/>
<text class="tx f17 tp5" x="555" y="5108.6"><tspan x="555">5、 从阅读课上关注学生的阅读质量,而不能在</tspan><tspan x="555" dy="22">放任自流。</tspan></text>
</g>
<g id="b5-4-9">
<rect x="545" y="5181" width="360" height="84" class="bx p5"/>
<text class="tx f17 tp5" x="555" y="5207.1"><tspan x="555">6、 多与学生交流,多"讨好"学生,如帮他们借书</tspan><tspan x="555" dy="22">,多主动和他们说话等,以拉近我们之间的关系</tspan><tspan x="555" dy="22">。</tspan></text>
</g>
</g>
</svg>
